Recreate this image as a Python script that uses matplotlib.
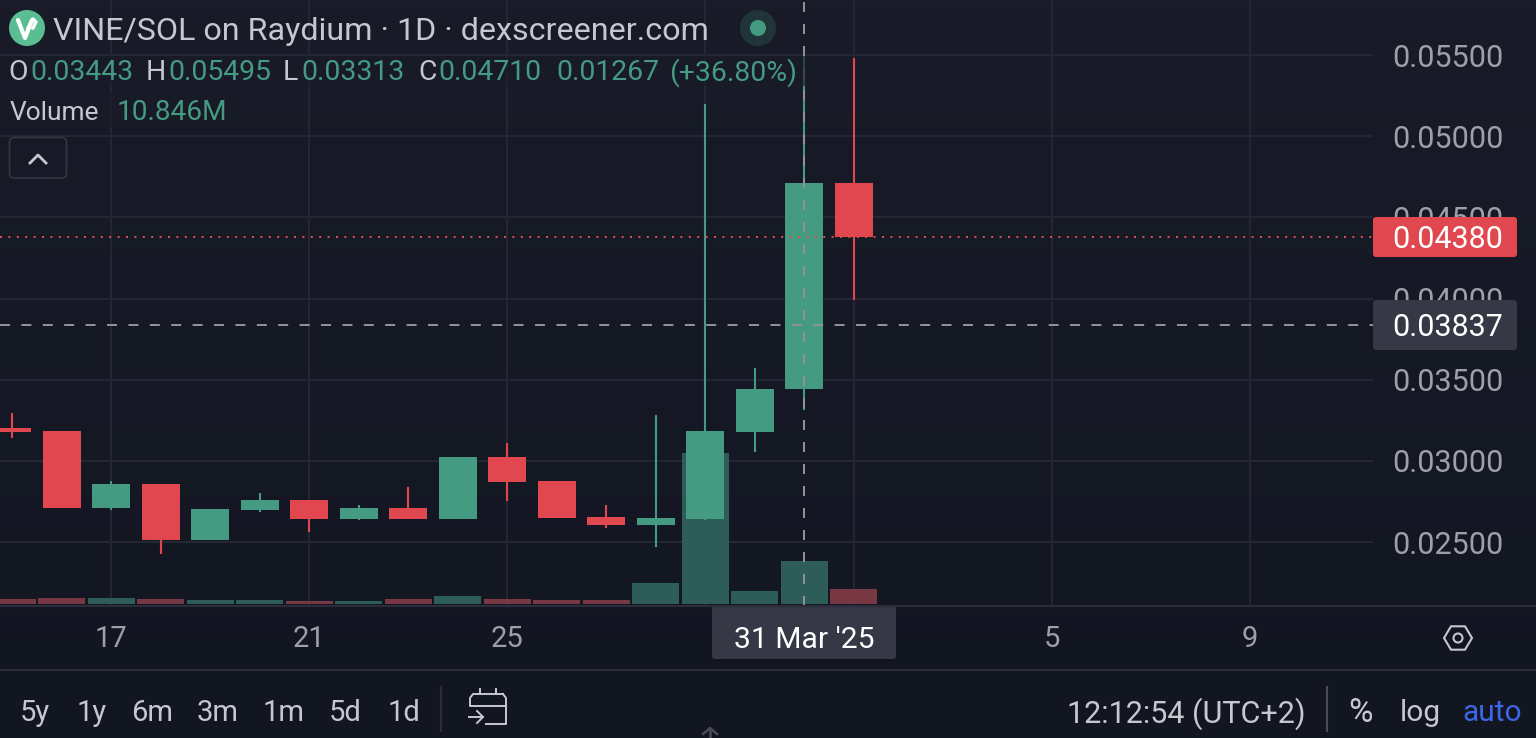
#!/usr/bin/env python
# -*- coding: utf-8 -*-
import numpy as np
import matplotlib
matplotlib.use("Agg")
import matplotlib.pyplot as plt
from matplotlib.patches import FancyBboxPatch, Rectangle, Circle, Polygon

# daily candles, day 0 is 17 Mar
days = list(range(-2, 16))
opens = [.03202, .03184, .02709, .02857, .02512, .02697, .02759, .02642, .02709, .02642, .03024, .02876, .02654, .02605, .02642, .03178, .03443, .04710]
highs = [.03295, .03184, .02876, .02857, .02703, .02802, .02759, .02728, .02839, .03024, .03110, .02876, .02728, .03282, .05198, .03572, .05495, .05482]
lows = [.03141, .02709, .02697, .02426, .02512, .02685, .02562, .02636, .02642, .02642, .02753, .02648, .02586, .02469, .02636, .03054, .03313, .03991]
closes = [.03178, .02709, .02857, .02512, .02703, .02759, .02642, .02709, .02642, .03024, .02870, .02648, .02605, .02648, .03184, .03442, .04710, .04380]
volumes = [1.26, 1.51, 1.51, 1.26, 1.0, 1.0, .76, .76, 1.26, 2.0, 1.26, 1.0, 1.0, 5.3, 38.1, 3.3, 10.846, 3.8]

price_ticks = [.025, .03, .035, .04, .045, .05, .055]
date_ticks = [0, 4, 8, 12, 15, 19, 23]
date_labels = ["17", "21", "25", "", "", "5", "9"]
last_price = .0438
cursor_price = .03837
cursor_day = 14

W, H = 1536, 738
GREEN = "#459a82"
RED = "#e0474f"
GRID = "#242733"
TEXT = "#c6c8cf"
AXTEXT = "#9da0a8"
LINE = "#2b2e3a"

# Roboto has the same-width digits the reference uses
plt.rcParams["font.family"] = ["Roboto", "DejaVu Sans"]

def px_axes(fig, x0, x1, y0, y1):
	# axes placed by pixel edges, y measured from the top
	return fig.add_axes([x0 / W, 1 - y1 / H, (x1 - x0) / W, (y1 - y0) / H])

fig = plt.figure(figsize=(W / 100, H / 100), dpi=100)

# background
bg = px_axes(fig, 0, W, 0, H)
bg.set_zorder(0)
bg.axis("off")
grad = np.linspace(0, 1, 64).reshape(-1, 1, 1)
grad = np.array([25, 28, 40]).reshape(1, 1, 3) * (1 - grad) + np.array([18, 22, 33]).reshape(1, 1, 3) * grad
bg.imshow(grad / 255.0, aspect="auto", extent=(0, W, H, 0))

# volume pane, the grid sits here so the bars cover it
vol = px_axes(fig, 0, 1373, 0, 606)
vol.set_zorder(1)
vol.patch.set_visible(False)
for s in vol.spines.values():
	s.set_visible(False)
vol.set_xlim(-2.247, 25.49)
vol.set_ylim(-0.5, 152.3)
vol_colors = ["#2f5f5b" if c >= o else "#7c3a45" for o, c in zip(opens, closes)]
vol.bar(days, volumes, width=0.95, color=vol_colors, alpha=0.97, zorder=3)
vol.set_xticks(date_ticks)
vol.set_yticks([(p - .02106) / (.05839 - .02106) * 152.8 - 0.5 for p in price_ticks])
vol.tick_params(length=0, labelbottom=False, labelleft=False)
vol.grid(True, color=GRID, lw=1.5, zorder=1)

# price pane
ax = px_axes(fig, 0, 1373, 0, 606)
ax.set_zorder(2)
ax.patch.set_visible(False)
ax.set_xlim(-2.247, 25.49)
ax.set_ylim(.02106, .05839)
for s in ax.spines.values():
	s.set_visible(False)
ax.yaxis.tick_right()
ax.set_yticks(price_ticks)
ax.set_yticklabels(["%.5f" % p for p in price_ticks], va="center_baseline")
ax.set_xticks(date_ticks)
ax.set_xticklabels(date_labels)
ax.tick_params(axis="y", length=0, pad=14, labelsize=22, labelcolor=AXTEXT)
ax.tick_params(axis="x", length=0, pad=14, labelsize=21, labelcolor=AXTEXT)
colors = [GREEN if c >= o else RED for o, c in zip(opens, closes)]
ax.vlines(days, lows, highs, color=colors, lw=1.5, zorder=3)
ax.bar(days, np.abs(np.array(closes) - np.array(opens)), bottom=np.minimum(opens, closes), width=0.77, color=colors, zorder=4)
ax.axhline(last_price, color=RED, lw=1.44, ls=(0, (1, 3.2)), zorder=5)
ax.axhline(cursor_price, color="#8f919a", lw=1.44, ls=(0, (5, 5.7)), zorder=6)
ax.axvline(cursor_day, color="#8f919a", lw=1.44, ls=(0, (5, 6)), zorder=6)

# chrome drawn in pixel coordinates
ui = px_axes(fig, 0, W, 0, H)
ui.set_zorder(3)
ui.patch.set_visible(False)
ui.axis("off")
ui.set_xlim(0, W)
ui.set_ylim(H, 0)

def label(x, y, s, size=22, color=TEXT, ha="left", **kw):
	ui.text(x, y, s, fontsize=size, color=color, ha=ha, va="center_baseline", **kw)

def box(x0, y0, x1, y1, fc, ec="none", r=3):
	ui.add_patch(FancyBboxPatch((x0 + r, y0 + r), x1 - x0 - 2 * r, y1 - y0 - 2 * r, boxstyle="round,pad=%d,rounding_size=%d" % (r, r), fc=fc, ec=ec, lw=1.2))

# legend backdrop dims what runs behind the text
ui.add_patch(Rectangle((0, 56), 810, 30, fc="#181b27", ec="none", alpha=0.65))
ui.add_patch(Rectangle((0, 92), 236, 36, fc="#181b27", ec="none", alpha=0.65))

ui.plot([0, W], [606, 606], color=LINE, lw=1.5)
ui.plot([0, W], [670, 670], color=LINE, lw=1.5)

# price and date tags
box(1373, 217, 1517, 257, RED)
label(1392, 237, "0.04380", color="white")
box(1373, 300, 1517, 350, "#363945")
label(1392, 325, "0.03837", color="white")
box(712, 606, 896, 659, "#363945")
label(804, 637, "31 Mar '25", size=21.6, color="white", ha="center")

# title row
ui.add_patch(Circle((27, 28), 18, fc="#5bbd92", ec="none"))
ui.plot([18, 25, 32], [20, 38, 20], color="white", lw=3, solid_capstyle="round")
ui.plot([28, 33, 36, 33], [28, 19, 22, 28], color="white", lw=2.4)
label(53, 28, "VINE/SOL on Raydium · 1D · dexscreener.com", size=23.25)
ui.add_patch(Circle((758, 28), 18, fc="#21343a", ec="none"))
ui.add_patch(Circle((758, 28), 8, fc="#459a82", ec="none"))

# ohlc row
for x, s, c in [(8, "O", TEXT), (30, "0.03443", GREEN), (146, "H", TEXT), (168, "0.05495", GREEN),
		(283, "L", TEXT), (301, "0.03313", GREEN), (418, "C", TEXT), (438, "0.04710", GREEN),
		(556, "0.01267", GREEN), (669, "(+36.80%)", GREEN)]:
	label(x, 69, s, size=20.4, color=c)
label(10, 110, "Volume", size=19)
label(117, 110, "10.846M", size=20.2, color=GREEN)

# collapse button
box(9.5, 137.5, 66.5, 178, "none", ec="#353843", r=5)
ui.plot([30, 38, 46], [163, 155, 163], color=TEXT, lw=2)

# settings hexagon
hex_x = 1458 + 14 * np.cos(np.arange(6) * np.pi / 3)
hex_y = 638 + 13.5 * np.sin(np.arange(6) * np.pi / 3)
ui.add_patch(Polygon(np.column_stack([hex_x, hex_y]), closed=True, fc="none", ec=TEXT, lw=1.5))
ui.add_patch(Circle((1458, 638), 4.5, fc="none", ec=TEXT, lw=1.5))

# bottom toolbar
for x, s in zip([35, 92, 152, 218, 284, 345, 404], ["5y", "1y", "6m", "3m", "1m", "5d", "1d"]):
	label(x, 710, s, size=21, ha="center")
ui.plot([441, 441], [687, 731], color=LINE, lw=1.5)
ui.plot([1327, 1327], [687, 731], color="#4a4d58", lw=1.5)

# calendar icon
ui.plot([486, 506, 506, 503], [724, 724, 698, 694], color=TEXT, lw=1.4)
ui.plot([503, 473, 470, 470, 506], [694, 694, 698, 706, 706], color=TEXT, lw=1.4)
ui.plot([480, 480], [689, 694], color=TEXT, lw=1.4)
ui.plot([496, 496], [689, 694], color=TEXT, lw=1.4)
ui.plot([469, 483], [717, 717], color=TEXT, lw=1.4)
ui.plot([477, 483, 477], [711, 717, 723], color=TEXT, lw=1.4)

label(1186, 710, "12:12:54 (UTC+2)", size=22, ha="center")
label(1361, 710, "%", size=24, ha="center")
label(1420, 710, "log", size=21.5, ha="center")
label(1492, 710, "auto", size=21.5, color="#3d67e6", ha="center")

# scroll arrow at the bottom edge
ui.plot([710, 710], [729, 738], color="#4a4c55", lw=1.8)
ui.plot([703, 710, 717], [734, 728, 734], color="#4a4c55", lw=1.8)

fig.savefig("out.png", dpi=100, facecolor="#181b27")
